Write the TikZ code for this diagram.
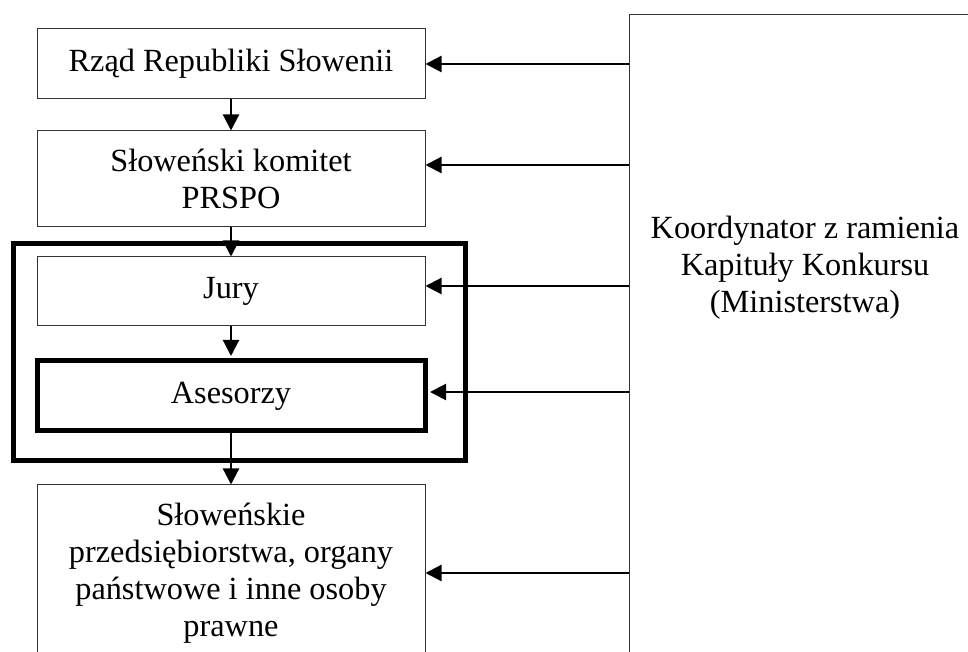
\documentclass[tikz,border=0pt]{standalone}
\usepackage{fontspec}
\setmainfont{Liberation Serif}
\usetikzlibrary{arrows.meta}

\begin{document}
\begin{tikzpicture}[x=1pt,y=1pt,
  box/.style={draw=black!80, line width=1pt, minimum width=388pt, inner sep=0pt,
    align=center, font=\fontsize{32.3}{37}\selectfont},
  thickbox/.style={draw=black, line width=5pt},
  arr/.style={line width=2.2pt, -{Triangle[length=16pt,width=16pt]}}]
\useasboundingbox (0,0) rectangle (968,652);
\clip (0,0) rectangle (968,652);

\node[box, minimum height=70pt] (rzad) at (231,588) {Rząd Republiki Słowenii};
\node[box, minimum height=96pt] (komitet) at (231,473) {Słoweński komitet\\PRSPO};
\node[thickbox, minimum width=452pt, minimum height=217pt, inner sep=0pt] (grupa) at (239,299.5) {};
\node[box, minimum height=69pt] (jury) at (231,360.5) {Jury};
\node[box, thickbox, minimum height=70pt] (asesorzy) at (231,256) {Asesorzy};
\node[box, minimum height=176pt] (firmy) at (231,79)
  {Słoweńskie\\przedsiębiorstwa, organy\\państwowe i inne osoby\\prawne};

% koordynator (box runs off the page)
\node[draw=black!80, line width=1pt, anchor=north west, minimum width=400pt,
  minimum height=700pt, inner sep=0pt] (kbox) at (629,638) {};
\node[align=center, font=\fontsize{32.3}{37}\selectfont] (koord) at (805,384)
  {Koordynator z ramienia\\Kapituły Konkursu\\(Ministerstwa)};

% arrow ends on the left boxes
\coordinate (komitetin) at ([yshift=14pt]komitet.east);
\coordinate (juryin) at ([yshift=5.5pt]jury.east);
\coordinate (asesorzyin) at ([yshift=4pt]asesorzy.east);

\draw[arr] (rzad) -- (komitet);
\draw[arr] (komitet) -- (jury);
\draw[arr, shorten >=2.5pt] (jury) -- (asesorzy);
\draw[arr] (asesorzy) -- (firmy);

\draw[arr] (kbox.west |- rzad.east) -- (rzad.east);
\draw[arr] (kbox.west |- komitetin) -- (komitetin);
\draw[arr] (kbox.west |- juryin) -- (juryin);
\draw[arr, shorten >=2.5pt] (kbox.west |- asesorzyin) -- (asesorzyin);
\draw[arr] (kbox.west |- firmy.east) -- (firmy.east);
\end{tikzpicture}
\end{document}
